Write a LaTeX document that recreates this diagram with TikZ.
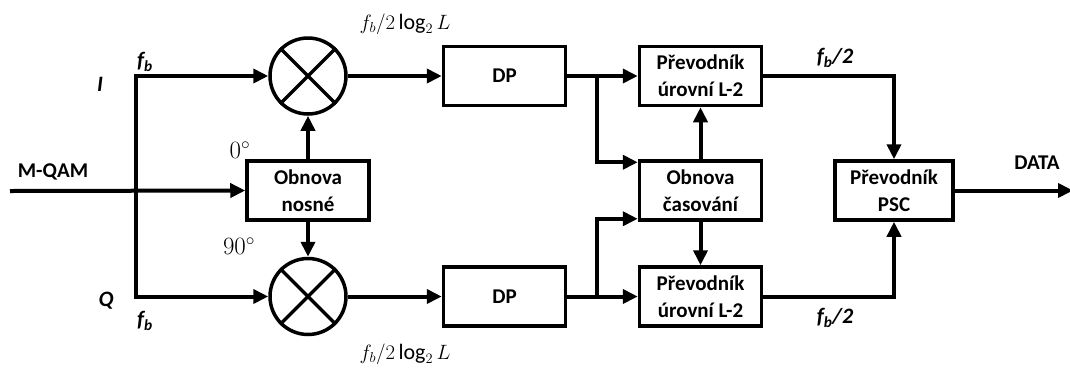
\documentclass[tikz,border=0pt]{standalone}
\usepackage{fontspec}
\setmainfont{Carlito}
\usetikzlibrary{arrows.meta}
\begin{document}
\begin{tikzpicture}[x=1pt,y=-1pt,
  txt/.style={font=\fontsize{21}{27}\selectfont\bfseries},
  blk/.style={txt, draw, line width=3.5pt, minimum width=122pt, minimum height=59pt,
              inner sep=0pt, align=center},
  mix/.style={draw, circle, line width=3.5pt, minimum size=76pt, inner sep=0pt},
  sig/.style={line width=4pt, -{Triangle[length=15pt,width=14pt]}},
  lbl/.style={font=\fontsize{22}{24}\selectfont\bfseries\itshape},
  mlbl/.style={font=\fontsize{22}{24}\selectfont},
  dlbl/.style={font=\fontsize{24}{26}\selectfont},
]
\useasboundingbox (0,0) rectangle (1070,368);

% blocks
\node[blk] (nos) at (308,190.5) {Obnova\\nosné};
\node[blk] (dp1) at (504.5,76) {DP};
\node[blk] (dp2) at (504.5,296.5) {DP};
\node[blk] (pr1) at (700.5,76) {Převodník\\úrovní L-2};
\node[blk] (cas) at (700.5,190.5) {Obnova\\časování};
\node[blk] (pr2) at (700.5,296.5) {Převodník\\úrovní L-2};
\node[blk, minimum width=118pt] (psc) at (894,190.5) {Převodník\\PSC};

% mixers
\node[mix] (m1) at (308,76) {};
\node[mix] (m2) at (308,296.5) {};
\foreach \m in {m1,m2}
  \draw[line width=3.5pt] (\m.45) -- (\m.225) (\m.135) -- (\m.315);

% branch points
\coordinate (in) at (10,191);
\coordinate (jn) at (136,191);
\coordinate (ja) at (597,76);
\coordinate (jb) at (597,296.5);
\coordinate (out) at (1073,190.5);

% connectors
\draw[sig] (in) -- (nos.west);
\draw[sig] (jn) |- (m1.west);
\draw[sig] (jn) |- (m2.west);
\draw[sig] (nos.north) -- (m1.south);
\draw[sig] (nos.south) -- (m2.north);
\draw[sig] (m1.east) -- (dp1.west);
\draw[sig] (m2.east) -- (dp2.west);
\draw[sig] (dp1.east) -- (pr1.west);
\draw[sig] (dp2.east) -- (pr2.west);
\draw[sig] (ja) |- ([yshift=-3pt]cas.north west);
\draw[sig] (jb) |- ([yshift=3pt]cas.south west);
\draw[sig] (cas.north) -- (pr1.south);
\draw[sig] (cas.south) -- (pr2.north);
\draw[sig] (pr1.east) -| (psc.north);
\draw[sig] (pr2.east) -| (psc.south);
\draw[sig] (psc.east) -- (out);

% labels
\node[txt] (lqam) at (53,172) {M-QAM};
\node[txt] (ldata) at (1037,163) {DATA};
\node[lbl] (lI) at (100,84) {I};
\node[lbl] (lQ) at (106,301) {Q};
\node[lbl] (lfb1) at (145,62) {f\textsubscript{b}};
\node[lbl] (lfb2) at (145,321) {f\textsubscript{b}};
\node[lbl] (lfh1) at (835,58) {f\textsubscript{b}/2};
\node[lbl] (lfh2) at (835,318) {f\textsubscript{b}/2};
\node[dlbl] (l0) at (240,150) {$0^\circ$};
\node[dlbl] (l90) at (239,246) {$90^\circ$};
\node[mlbl] (lr1) at (405,24) {$f_b/2\log_2 L$};
\node[mlbl] (lr2) at (405,354) {$f_b/2\log_2 L$};
\end{tikzpicture}
\end{document}
